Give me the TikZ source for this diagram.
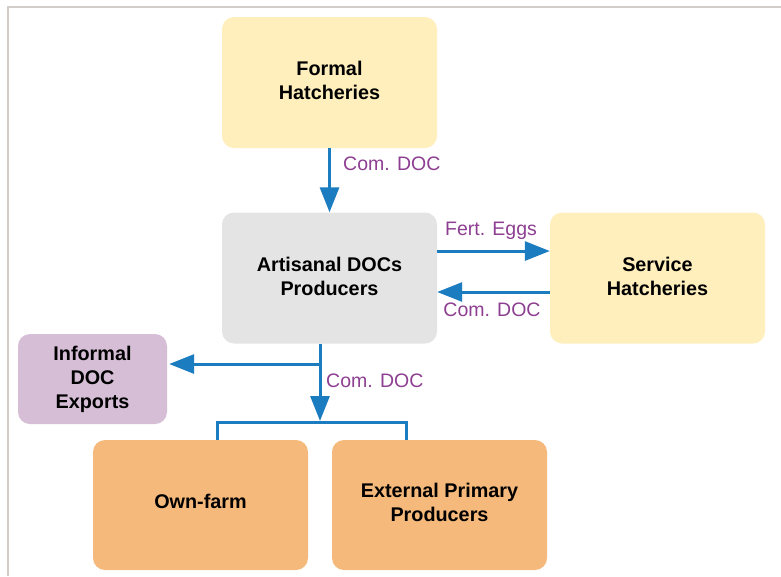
\documentclass[tikz,border=0pt]{standalone}
\usepackage{fontspec}
\setmainfont{Liberation Sans}
\usetikzlibrary{arrows.meta}

\definecolor{paleyellow}{HTML}{FFEFBD}
\definecolor{palegray}{HTML}{E4E4E4}
\definecolor{lilac}{HTML}{D5BED6}
\definecolor{apricot}{HTML}{F5B97B}
\definecolor{flowblue}{HTML}{1B7CC0}
\definecolor{labelpurple}{HTML}{8E3F92}
\definecolor{framegray}{HTML}{D3CDC9}

\tikzset{
  block/.style={rounded corners=12pt, inner sep=0pt, align=center,
    font=\bfseries\fontsize{19.8}{24}\selectfont, text=black},
  bigblock/.style={block, minimum width=215pt, minimum height=131pt},
  flow/.style={draw=flowblue, line width=3pt,
    -{Triangle[length=25pt,width=19pt]}},
  link/.style={draw=flowblue, line width=3pt},
  flowlabel/.style={text=labelpurple, inner sep=0pt,
    font=\fontsize{19.5}{23}\selectfont}
}

\begin{document}
\begin{tikzpicture}[x=1pt, y=-1pt]
  \useasboundingbox (0,0) rectangle (781,576);
  \fill[white] (0,0) rectangle (781,576);

  % thin frame along top and left
  \draw[framegray, line width=2pt] (8,576) -- (8,7) -- (781,7);

  % boxes (text depth lifts the lettering a little inside each box)
  \node[bigblock, fill=paleyellow, text depth=5pt] (formal) at (329.5,82.5)
    {Formal\\Hatcheries};
  \node[bigblock, fill=palegray, text depth=3pt] (artisanal) at (329.5,278)
    {Artisanal DOCs\\Producers};
  \node[bigblock, fill=paleyellow, text depth=3.5pt] (service) at (657.5,278)
    {Service\\Hatcheries};
  \node[block, fill=lilac, minimum width=149pt, minimum height=90pt] (informal)
    at (92.5,379) {Informal\\DOC\\Exports};
  \node[bigblock, fill=apricot, minimum height=130pt, text depth=8pt] (ownfarm)
    at (200.5,505) {Own-farm};
  \node[bigblock, fill=apricot, minimum height=130pt, text depth=6pt] (external)
    at (439.5,505) {External Primary\\Producers};

  % supply from formal hatcheries
  \draw[flow] (formal.south) -- (artisanal.north);
  \node[flowlabel, anchor=west] (lblformal) at (343,164) {Com. DOC};

  % exchange with service hatcheries
  \draw[flow] ([yshift=27pt]artisanal.east) -- ([yshift=27pt]service.west);
  \node[flowlabel] (lbleggs) at (491,231) {Fert. Eggs};
  \draw[flow] ([yshift=-14pt]service.west) -- ([yshift=-14pt]artisanal.east);
  \node[flowlabel] (lblreturn) at (492,310) {Com. DOC};

  % distribution downstream
  \coordinate (fork) at (320,364);
  \coordinate (split) at (320,422);
  \draw[link] ([xshift=-9.5pt]artisanal.south) -- (fork);
  \draw[flow] (fork) -- ([xshift=2pt]informal.east |- fork);
  \draw[flow] (fork) -- ([yshift=1pt]split);
  \node[flowlabel, anchor=west] (lbldown) at (326,381) {Com. DOC};
  \draw[link] ([xshift=16.5pt]ownfarm.north) |- (split)
    -| ([xshift=-33.5pt]external.north);
\end{tikzpicture}
\end{document}
